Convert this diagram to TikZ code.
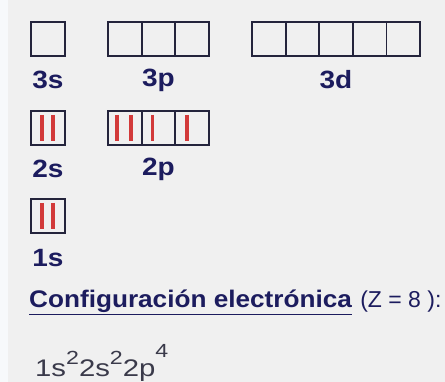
\documentclass[tikz,border=0pt]{standalone}
\usepackage{fontspec}
\setmainfont{Liberation Sans}
\newfontfamily\widefont[FakeStretch=1.12]{Liberation Sans}
\newfontfamily\titlefont[FakeStretch=1.09]{Liberation Sans}
\newfontfamily\elecfont[FakeStretch=1.22]{Liberation Sans}
\usepackage{xcolor}
\definecolor{orbnavy}{HTML}{1C1C5E}
\definecolor{orbline}{HTML}{24243C}
\definecolor{orbred}{HTML}{D23A3A}
\definecolor{orbback}{HTML}{F0F0F0}
\definecolor{orbstrip}{HTML}{F7F9FB}
\definecolor{orbtext}{HTML}{3A3A4A}
\usetikzlibrary{positioning}
\newcommand\supnum[2]{\raisebox{#1}{\fontsize{19}{21}\selectfont #2}}

\begin{document}
\begin{tikzpicture}[x=1pt,y=-1pt,
  cell/.style={draw=orbline,line width=1.8pt,minimum width=33.6pt,minimum height=34pt,
    inner sep=0pt,outer sep=0pt},
  orb/.style={font=\widefont\bfseries\fontsize{25}{27}\selectfont,text=orbnavy,inner sep=0pt},
  spin/.style={orbred,line width=3.4pt},
  conf/.style={font=\fontsize{23}{25}\selectfont,inner sep=0pt,anchor=base west}]
  \useasboundingbox (0,0) rectangle (445,382);
  \clip (0,0) rectangle (445,382);
  \fill[orbback] (0,0) rectangle (445,382);
  \fill[orbstrip] (0,0) rectangle (8,382);
  \node[cell] (s3) at (48,39) {};
  \foreach \i in {0,1,2}
    \node[cell] (p3\i) at ({124.8+33.6*\i},39) {};
  \foreach \i in {0,...,4}
    \node[cell] (d3\i) at ({268.8+33.6*\i},39) {};
  \node[orb] (s3l) at (48,80) {3s};
  \node[orb] (p3l) at (p31 |- s3l) {3p};
  \node[orb] (d3l) at (d32 |- s3l) {3d};
  \node[cell] (s2) at (48,128) {};
  \foreach \i in {0,1,2}
    \node[cell] (p2\i) at ({124.8+33.6*\i},128) {};
  \node[orb] (s2l) at (48,169) {2s};
  \node[orb] (p2l) at (p21 |- s2l) {2p};
  \node[cell] (s1) at (48,216) {};
  \node[orb] (s1l) at (48,258) {1s};
  \draw[spin] ([xshift=-6pt,yshift=-4pt]s2.north) -- ([xshift=-6pt,yshift=4pt]s2.south);
  \draw[spin] ([xshift=5pt,yshift=-4pt]s2.north) -- ([xshift=5pt,yshift=4pt]s2.south);
  \draw[spin] ([xshift=-8pt,yshift=-4pt]p20.north) -- ([xshift=-8pt,yshift=4pt]p20.south);
  \draw[spin] ([xshift=6pt,yshift=-4pt]p20.north) -- ([xshift=6pt,yshift=4pt]p20.south);
  \draw[spin] ([xshift=-6pt,yshift=-4pt]p21.north) -- ([xshift=-6pt,yshift=4pt]p21.south);
  \draw[spin] ([xshift=-5pt,yshift=-4pt]p22.north) -- ([xshift=-5pt,yshift=4pt]p22.south);
  \draw[spin] ([xshift=-6pt,yshift=-4pt]s1.north) -- ([xshift=-6pt,yshift=4pt]s1.south);
  \draw[spin] ([xshift=5pt,yshift=-4pt]s1.north) -- ([xshift=5pt,yshift=4pt]s1.south);
  \node[conf,text=orbnavy] (cfg) at (29,308)
    {\titlefont\fontsize{24}{26}\selectfont\bfseries\underline{Configuración electrónica}};
  \node[conf,text=orbnavy] (zed) at ([xshift=8pt]cfg.base east) {(Z = 8 ):};
  \node[conf,text=orbtext,font=\elecfont\fontsize{24}{26}\selectfont] (elec) at (35,377)
    {1s\supnum{12pt}{2}2s\supnum{12pt}{2}2p\supnum{19pt}{4}};
\end{tikzpicture}
\end{document}
